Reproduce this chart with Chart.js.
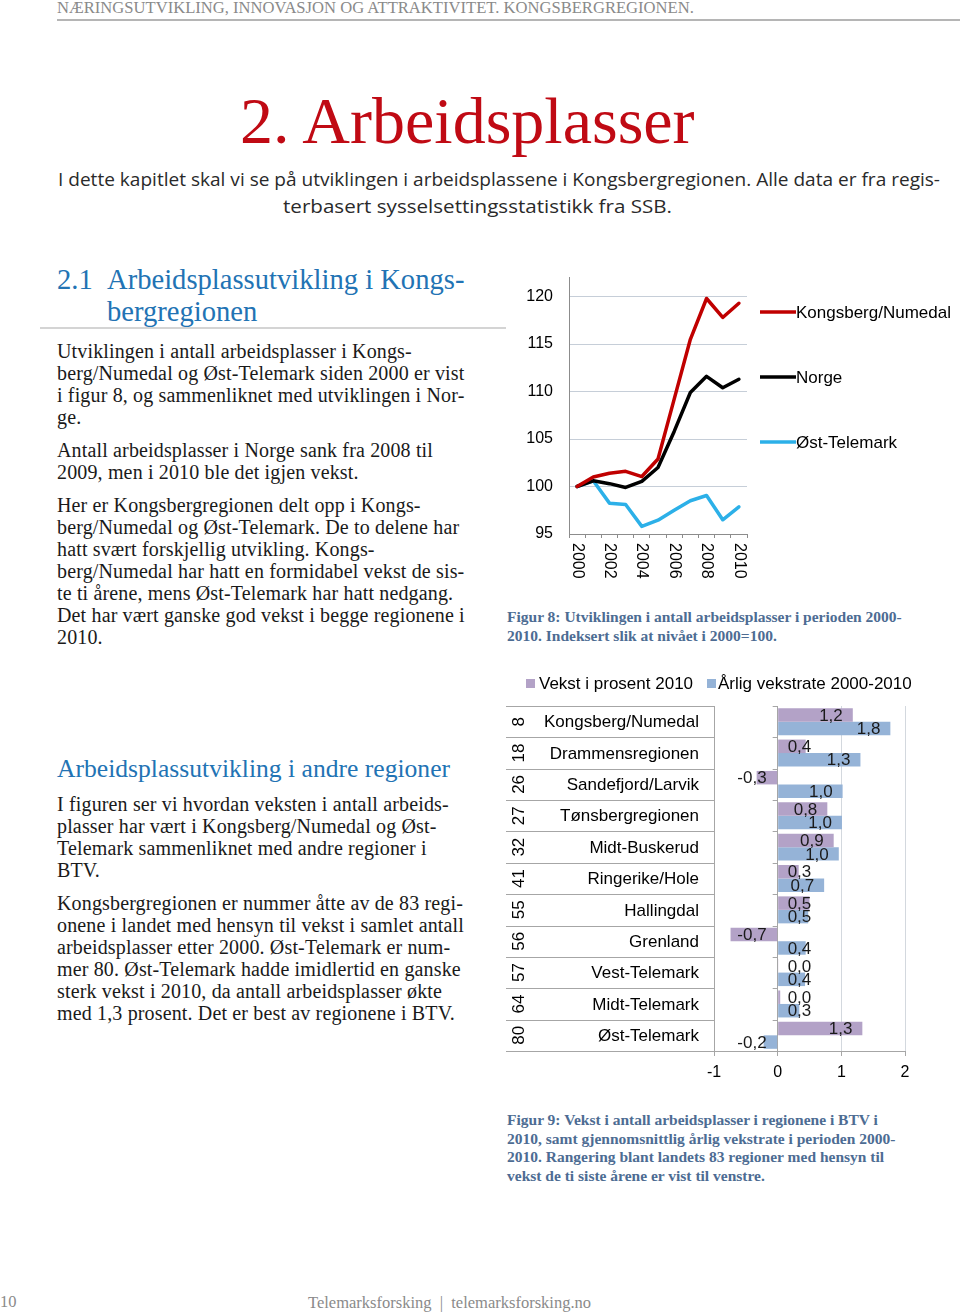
<!DOCTYPE html>
<html>
<head>
<meta charset="utf-8">
<script src="https://cdn.jsdelivr.net/npm/chart.js@4.4.1/dist/chart.umd.min.js"></script>
<style>
  html, body { margin: 0; padding: 0; background: #fff; }
  body { width: 960px; height: 1313px; position: relative; overflow: hidden;
         font-family: 'Liberation Serif', 'Times New Roman', serif; color: #1a1a1a; }
  .abs { position: absolute; white-space: nowrap; }
  .hdr { left: 57px; top: -1px; font-size: 16.6px; color: #8a8a8a; line-height: 17px; }
  .hdr-rule { left: 57px; top: 19px; width: 903px; height: 2px; background: #b5b5b5; }
  .title { left: 240px; top: 88px; font-size: 66px; line-height: 66px; color: #c00a14; }
  .intro { font-family: 'Open Sans', sans-serif; font-size: 19px; line-height: 27px; color: #2a2a2a; }
  .h2 { font-size: 28.6px; line-height: 32px; color: #2273b4; }
  .h3 { font-size: 25.6px; line-height: 30px; color: #2273b4; }
  .rule { left: 40px; top: 327px; width: 466px; height: 2px; background: #d4d4d4; }
  .p { left: 57px; font-size: 20px; letter-spacing: 0.15px; line-height: 22px; }
  .cap { left: 507px; font-size: 15.5px; font-weight: bold; color: #4d6c93; }
  .foot { font-size: 16.5px; color: #8a8a8a; line-height: 20px; }
  #lineBox { position: absolute; left: 500px; top: 252px; width: 460px; height: 338px; }
  #barBox { position: absolute; left: 500px; top: 660px; width: 460px; height: 430px; }
</style>
</head>
<body>

<div class="abs hdr">NÆRINGSUTVIKLING, INNOVASJON OG ATTRAKTIVITET. KONGSBERGREGIONEN.</div>
<div class="abs hdr-rule"></div>

<div class="abs title">2. Arbeidsplasser</div>

<div class="abs intro" data-w="882" style="left:58px; top:166px;">I dette kapitlet skal vi se på utviklingen i arbeidsplassene i Kongsbergregionen. Alle data er fra regis-</div>
<div class="abs intro" data-w="389" style="left:283px; top:193px;">terbasert sysselsettingsstatistikk fra SSB.</div>

<div class="abs h2" style="left:57px; top:264px;">2.1</div>
<div class="abs h2" style="left:107px; top:264px;">Arbeidsplassutvikling i Kongs-<br>bergregionen</div>
<div class="abs rule"></div>

<div class="abs p" style="top:340px;">Utviklingen i antall arbeidsplasser i Kongs-<br>berg/Numedal og Øst-Telemark siden 2000 er vist<br>i figur 8, og sammenliknet med utviklingen i Nor-<br>ge.</div>
<div class="abs p" style="top:439px;">Antall arbeidsplasser i Norge sank fra 2008 til<br>2009, men i 2010 ble det igjen vekst.</div>
<div class="abs p" style="top:494px;">Her er Kongsbergregionen delt opp i Kongs-<br>berg/Numedal og Øst-Telemark. De to delene har<br>hatt svært forskjellig utvikling. Kongs-<br>berg/Numedal har hatt en formidabel vekst de sis-<br>te ti årene, mens Øst-Telemark har hatt nedgang.<br>Det har vært ganske god vekst i begge regionene i<br>2010.</div>

<div class="abs h3" style="left:57px; top:754px;">Arbeidsplassutvikling i andre regioner</div>
<div class="abs p" style="top:793px;">I figuren ser vi hvordan veksten i antall arbeids-<br>plasser har vært i Kongsberg/Numedal og Øst-<br>Telemark sammenliknet med andre regioner i<br>BTV.</div>
<div class="abs p" style="top:892px;">Kongsbergregionen er nummer åtte av de 83 regi-<br>onene i landet med hensyn til vekst i samlet antall<br>arbeidsplasser etter 2000. Øst-Telemark er num-<br>mer 80. Øst-Telemark hadde imidlertid en ganske<br>sterk vekst i 2010, da antall arbeidsplasser økte<br>med 1,3 prosent. Det er best av regionene i BTV.</div>

<div id="lineBox"><canvas id="lineChart"></canvas></div>
<div class="abs cap" style="top:607px; line-height:19px;">Figur 8: Utviklingen i antall arbeidsplasser i perioden 2000-<br>2010. Indeksert slik at nivået i 2000=100.</div>

<div id="barBox"><canvas id="barChart"></canvas></div>
<div class="abs cap" style="top:1111px; line-height:18.5px;">Figur 9: Vekst i antall arbeidsplasser i regionene i BTV i<br>2010, samt gjennomsnittlig årlig vekstrate i perioden 2000-<br>2010. Rangering blant landets 83 regioner med hensyn til<br>vekst de ti siste årene er vist til venstre.</div>

<div class="abs foot" style="left:0px; top:1292px;">10</div>
<div class="abs foot" style="left:308px; top:1293px;">Telemarksforsking &nbsp;|&nbsp; telemarksforsking.no</div>

<script>
(function () {
  'use strict';

  // figur 8: indeks, 2000 = 100
  const years = ['2000', '2001', '2002', '2003', '2004', '2005', '2006', '2007', '2008', '2009', '2010'];
  const kongsbergNumedal = [100, 101.0, 101.4, 101.6, 101.05, 102.9, 109.2, 115.5, 119.8, 117.8, 119.3];
  const norge = [100, 100.6, 100.3, 99.9, 100.55, 102.0, 105.8, 109.9, 111.6, 110.4, 111.3];
  const ostTelemark = [100, 100.6, 98.25, 98.1, 95.8, 96.45, 97.5, 98.5, 99.05, 96.5, 97.85];
  const indexTicks = [95, 100, 105, 110, 115, 120];

  // figur 9: rangering, region, vekst
  const ranks = ['8', '18', '26', '27', '32', '41', '55', '56', '57', '64', '80'];
  const regions = ['Kongsberg/Numedal', 'Drammensregionen', 'Sandefjord/Larvik', 'Tønsbergregionen',
    'Midt-Buskerud', 'Ringerike/Hole', 'Hallingdal', 'Grenland', 'Vest-Telemark', 'Midt-Telemark', 'Øst-Telemark'];
  const vekst2010 = [1.18, 0.44, -0.33, 0.78, 0.88, 0.33, 0.5, -0.74, 0.01, 0.04, 1.33];
  const aarligVekst = [1.77, 1.30, 1.02, 1.01, 0.96, 0.73, 0.48, 0.44, 0.43, 0.34, -0.22];

  const FONT = "'Liberation Sans', Arial, sans-serif";
  const AXIS = '#8c8c8c';

  // squeeze sans lines to the width they take in the print
  document.querySelectorAll('[data-w]').forEach(function (el) {
    const w = el.getBoundingClientRect().width;
    el.style.transformOrigin = 'left top';
    el.style.transform = 'scaleX(' + (parseFloat(el.dataset.w) / w) + ')';
  });

  Chart.defaults.font.family = FONT;
  Chart.defaults.font.size = 16;
  Chart.defaults.color = '#000';
  Chart.defaults.animation = false;

  // ---------- figur 8 ----------
  const lineLegend = {
    id: 'lineLegend',
    afterDraw(chart) {
      const ctx = chart.ctx;
      const rows = [60, 125, 190];
      ctx.save();
      ctx.font = '17px ' + FONT;
      ctx.textBaseline = 'middle';
      chart.data.datasets.forEach(function (ds, i) {
        ctx.strokeStyle = ds.borderColor;
        ctx.lineWidth = 3.5;
        ctx.beginPath();
        ctx.moveTo(260, rows[i]);
        ctx.lineTo(296, rows[i]);
        ctx.stroke();
        ctx.fillStyle = '#000';
        ctx.fillText(ds.label, 296, rows[i] + 1);
      });
      ctx.restore();
    }
  };

  // year labels turned clockwise, every second year
  const yearLabels = {
    id: 'yearLabels',
    afterDraw(chart) {
      const ctx = chart.ctx;
      const x = chart.scales.x;
      ctx.save();
      ctx.font = '16px ' + FONT;
      ctx.fillStyle = '#000';
      ctx.textAlign = 'left';
      ctx.textBaseline = 'middle';
      years.forEach(function (y, i) {
        if (i % 2) return;
        ctx.save();
        ctx.translate(x.getPixelForValue(i), chart.chartArea.bottom + 9);
        ctx.rotate(Math.PI / 2);
        ctx.fillText(y, 0, 0);
        ctx.restore();
      });
      ctx.restore();
    }
  };

  new Chart(document.getElementById('lineChart'), {
    type: 'line',
    data: {
      labels: years,
      datasets: [
        { label: 'Kongsberg/Numedal', data: kongsbergNumedal, borderColor: '#c00000' },
        { label: 'Norge', data: norge, borderColor: '#000000' },
        { label: 'Øst-Telemark', data: ostTelemark, borderColor: '#2cb0e8' },
      ],
    },
    options: {
      responsive: true,
      maintainAspectRatio: false,
      layout: { padding: { top: 7, right: 213, left: 0, bottom: 0 } },
      elements: {
        line: { borderWidth: 3.5, tension: 0, borderCapStyle: 'round', borderJoinStyle: 'round' },
        point: { radius: 0 },
      },
      plugins: { legend: { display: false }, tooltip: { enabled: false } },
      scales: {
        x: {
          type: 'category',
          offset: true,
          ticks: { display: false },
          grid: { offset: true, drawOnChartArea: false, drawTicks: true, tickLength: 4, color: AXIS },
          border: { color: AXIS },
          afterFit(s) { s.height = 56; },
        },
        y: {
          min: 95,
          max: 122,
          afterBuildTicks(s) { s.ticks = indexTicks.map(function (v) { return { value: v }; }); },
          ticks: { stepSize: 1, padding: 16, color: '#000' },
          grid: { drawTicks: false, color: function (c) { return c.tick.value === 95 ? 'rgba(0,0,0,0)' : '#c6ced8'; } },
          border: { color: AXIS },
          afterFit(s) { s.width = 69; },
        },
      },
    },
    plugins: [lineLegend, yearLabels],
  });

  // ---------- figur 9 ----------
  const fmt = function (v) { return v.toFixed(1).replace('.', ','); };

  const barLegend = {
    id: 'barLegend',
    afterDraw(chart) {
      const ctx = chart.ctx;
      const items = [[26, 39], [207, 218]];
      ctx.save();
      ctx.font = '17px ' + FONT;
      ctx.textBaseline = 'middle';
      chart.data.datasets.forEach(function (ds, i) {
        ctx.fillStyle = ds.backgroundColor;
        ctx.fillRect(items[i][0], 19, 9, 9);
        ctx.fillStyle = '#000';
        ctx.fillText(ds.label, items[i][1], 24);
      });
      ctx.restore();
    }
  };

  // rank + region table to the left, and ticks on the zero line
  const regionTable = {
    id: 'regionTable',
    afterDraw(chart) {
      const ctx = chart.ctx;
      const area = chart.chartArea;
      const x0 = chart.scales.x.getPixelForValue(0);
      const rowH = (area.bottom - area.top) / regions.length;
      ctx.save();
      ctx.strokeStyle = '#a6a6a6';
      ctx.lineWidth = 1;
      for (let k = 0; k <= regions.length; k++) {
        const y = Math.round(area.top + k * rowH) + 0.5;
        ctx.beginPath();
        ctx.moveTo(6, y);
        ctx.lineTo(area.left, y);
        ctx.moveTo(x0 - 5, y);
        ctx.lineTo(x0, y);
        ctx.stroke();
      }
      ctx.font = '17px ' + FONT;
      ctx.fillStyle = '#000';
      ctx.textBaseline = 'middle';
      regions.forEach(function (name, i) {
        const y = chart.scales.y.getPixelForValue(i);
        ctx.textAlign = 'right';
        ctx.fillText(name, 199, y + 1);
        ctx.save();
        ctx.translate(19, y);
        ctx.rotate(-Math.PI / 2);
        ctx.textAlign = 'center';
        ctx.fillText(ranks[i], 0, 0);
        ctx.restore();
      });
      ctx.restore();
    }
  };

  const barValues = {
    id: 'barValues',
    afterDatasetsDraw(chart) {
      const ctx = chart.ctx;
      const x0 = chart.scales.x.getPixelForValue(0);
      ctx.save();
      ctx.font = '17px ' + FONT;
      ctx.fillStyle = '#1a1a1a';
      ctx.textBaseline = 'middle';
      ctx.textAlign = 'left';
      chart.data.datasets.forEach(function (ds, di) {
        chart.getDatasetMeta(di).data.forEach(function (bar, i) {
          const v = ds.data[i];
          const txt = fmt(v);
          const w = ctx.measureText(txt).width;
          let left;
          if (v < 0) left = x0 - 11 - w;
          else left = Math.max(bar.x - 10 - w, x0 + 10);
          ctx.fillText(txt, left, bar.y + 1);
        });
      });
      ctx.restore();
    }
  };

  new Chart(document.getElementById('barChart'), {
    type: 'bar',
    data: {
      labels: regions,
      datasets: [
        { label: 'Vekst i prosent 2010', data: vekst2010, backgroundColor: '#b3a2c7' },
        { label: 'Årlig vekstrate 2000-2010', data: aarligVekst, backgroundColor: '#95b3d7' },
      ],
    },
    options: {
      indexAxis: 'y',
      responsive: true,
      maintainAspectRatio: false,
      layout: { padding: { top: 46, right: 55, left: 0, bottom: 0 } },
      datasets: { bar: { categoryPercentage: 0.86, barPercentage: 1 } },
      plugins: { legend: { display: false }, tooltip: { enabled: false } },
      scales: {
        x: {
          min: -1,
          max: 2,
          ticks: { stepSize: 1, padding: 7, color: '#000' },
          grid: {
            tickLength: 5,
            tickColor: '#a6a6a6',
            color: function (c) { return c.tick.value === 0 ? '#a6a6a6' : '#d3d8de'; },
          },
          border: { color: '#a6a6a6' },
          afterFit(s) { s.height = 39; },
        },
        y: {
          type: 'category',
          ticks: { display: false },
          grid: { display: false },
          border: { color: '#a6a6a6' },
          afterFit(s) { s.width = 214; },
        },
      },
    },
    plugins: [barLegend, regionTable, barValues],
  });
}());
</script>
</body>
</html>
